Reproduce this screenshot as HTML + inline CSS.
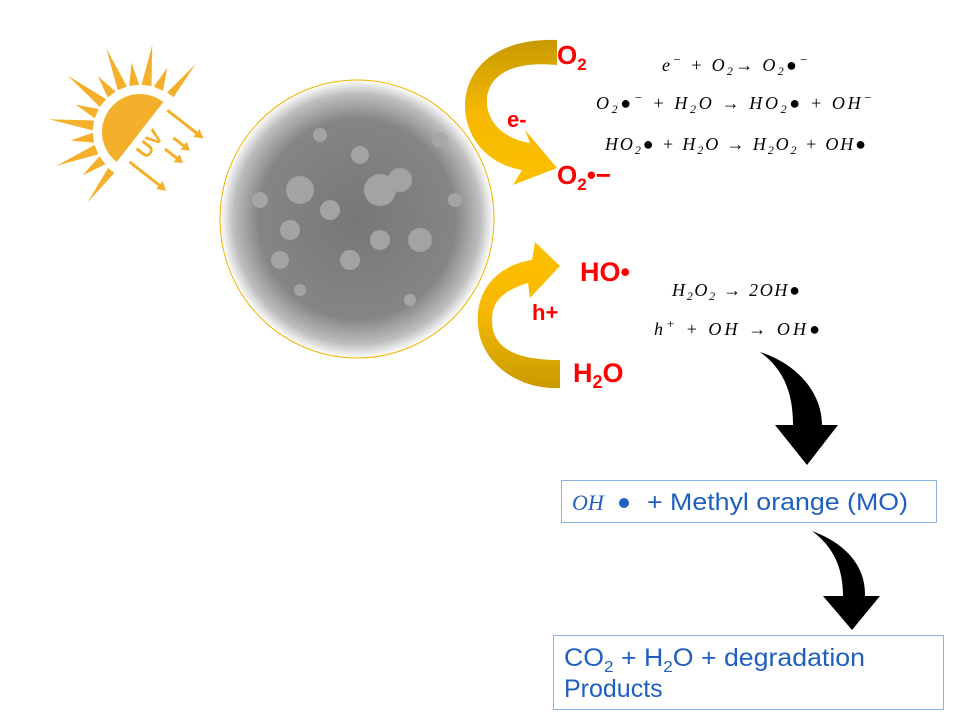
<!DOCTYPE html>
<html><head><meta charset="utf-8"><style>
body{margin:0;background:#fff;}
svg{display:block}
.m{font-family:"Liberation Serif",serif;font-style:italic;font-size:18px;fill:#000}
.r{font-family:"Liberation Sans",sans-serif;font-weight:bold;fill:#f00}
.b{font-family:"Liberation Sans",sans-serif;fill:#1f5fbf}
</style></head><body>
<svg width="960" height="720" viewBox="0 0 960 720" xmlns="http://www.w3.org/2000/svg">
<defs>
<radialGradient id="g" cx="50%" cy="50%" r="50%">
<stop offset="0" stop-color="#777"/><stop offset="0.72" stop-color="#858585"/><stop offset="0.9" stop-color="#bdbdbd"/><stop offset="1" stop-color="#fff"/>
</radialGradient>
<linearGradient id="ga" x1="0" y1="0" x2="0" y2="1"><stop offset="0" stop-color="#c89a00"/><stop offset="0.5" stop-color="#f5b800"/><stop offset="1" stop-color="#ffc000"/></linearGradient>
<linearGradient id="gb" x1="0" y1="1" x2="0" y2="0"><stop offset="0" stop-color="#c89a00"/><stop offset="0.5" stop-color="#f5b800"/><stop offset="1" stop-color="#ffc000"/></linearGradient>
</defs>
<!-- sun -->
<g transform="translate(140,132) rotate(-52)" fill="#f4b02a">
<path d="M-38,0 A38,38 0 0 1 38,0 Z"/>
<g>
<polygon points="-48,-3 -48,5 -88,2" transform="rotate(0)"/>
<polygon points="-47,-5 -47,5 -72,0" transform="rotate(15)"/>
<polygon points="-47,-5 -47,5 -90,0" transform="rotate(30)"/>
<polygon points="-47,-5 -47,5 -70,0" transform="rotate(45)"/>
<polygon points="-47,-5 -47,5 -92,0" transform="rotate(60)"/>
<polygon points="-47,-5 -47,5 -70,0" transform="rotate(75)"/>
<polygon points="-47,-5 -47,5 -92,0" transform="rotate(90)"/>
<polygon points="-47,-5 -47,5 -70,0" transform="rotate(105)"/>
<polygon points="-47,-5 -47,5 -90,0" transform="rotate(120)"/>
<polygon points="-47,-5 -47,5 -70,0" transform="rotate(135)"/>
<polygon points="-47,-5 -47,5 -88,0" transform="rotate(150)"/>
<polygon points="-47,-5 -47,5 -70,0" transform="rotate(165)"/>
<polygon points="-48,-5 -48,3 -88,-2" transform="rotate(180)"/>
</g>
<text x="-18" y="22" font-family="Liberation Sans" font-size="21" font-weight="bold">UV</text>
<g stroke="#f4b02a" stroke-width="3">
<line x1="-30" y1="10" x2="-30" y2="50"/><line x1="2" y1="30" x2="2" y2="48"/><line x1="16" y1="30" x2="16" y2="46"/><line x1="34" y1="8" x2="34" y2="48"/>
</g>
<polygon points="-35,48 -25,48 -30,57"/><polygon points="-3,45 7,45 2,53"/><polygon points="11,43 21,43 16,51"/><polygon points="29,45 39,45 34,54"/>
</g>
<!-- particle -->
<ellipse cx="357" cy="219" rx="137" ry="139" fill="url(#g)"/>
<g fill="#a8a8a8" opacity="0.9">
<circle cx="300" cy="190" r="14"/><circle cx="330" cy="210" r="10"/><circle cx="380" cy="190" r="16"/><circle cx="400" cy="180" r="12"/>
<circle cx="290" cy="230" r="10"/><circle cx="260" cy="200" r="8"/><circle cx="420" cy="240" r="12"/><circle cx="350" cy="260" r="10"/>
<circle cx="280" cy="260" r="9"/><circle cx="320" cy="135" r="7"/><circle cx="360" cy="155" r="9"/><circle cx="440" cy="140" r="8"/>
<circle cx="380" cy="240" r="10"/><circle cx="300" cy="290" r="6"/><circle cx="410" cy="300" r="6"/><circle cx="455" cy="200" r="7"/>
</g>
<ellipse cx="357" cy="219" rx="137" ry="139" fill="none" stroke="#f0b400" stroke-width="1"/>
<!-- gold arrows -->
<path d="M557,40 L557,65 C505,60 485,80 487,105 C490,128 510,140 530,143 L525,130 L557,168 L513,185 L522,170 C490,165 465,140 465,105 C466,65 500,38 557,40Z" fill="url(#ga)"/>
<path d="M560,388 L560,360 C510,360 492,345 492,320 C492,300 505,290 528,283 L530,298 L560,266 L535,242 L532,260 C498,265 475,290 478,325 C480,360 515,390 560,388Z" fill="url(#gb)"/>
<text x="557" y="64" class="r" font-size="26">O<tspan font-size="17" dy="6">2</tspan></text>
<text x="507" y="127" class="r" font-size="22">e-</text>
<text x="557" y="184" class="r" font-size="26">O<tspan font-size="17" dy="6">2</tspan><tspan dy="-6">•−</tspan></text>
<text x="580" y="281" class="r" font-size="27">HO•</text>
<text x="532" y="320" class="r" font-size="22">h+</text>
<text x="573" y="382" class="r" font-size="27">H<tspan font-size="18" dy="6">2</tspan><tspan dy="-6">O</tspan></text>
<!-- equations -->
<text x="662" y="71" class="m" textLength="146" lengthAdjust="spacing">e<tspan dy="-7" font-size="13">−</tspan><tspan dy="7"> + O</tspan><tspan dy="4" font-size="12">2</tspan><tspan dy="-4">→ O</tspan><tspan dy="4" font-size="12">2</tspan><tspan dy="-4">●</tspan><tspan dy="-7" font-size="13">−</tspan></text>
<text x="596" y="109" class="m" textLength="276" lengthAdjust="spacing">O<tspan dy="4" font-size="12">2</tspan><tspan dy="-4">●</tspan><tspan dy="-7" font-size="13">−</tspan><tspan dy="7"> + H</tspan><tspan dy="4" font-size="12">2</tspan><tspan dy="-4">O   →   HO</tspan><tspan dy="4" font-size="12">2</tspan><tspan dy="-4">● + OH</tspan><tspan dy="-7" font-size="13">−</tspan></text>
<text x="605" y="150" class="m" textLength="261" lengthAdjust="spacing">HO<tspan dy="4" font-size="12">2</tspan><tspan dy="-4">● + H</tspan><tspan dy="4" font-size="12">2</tspan><tspan dy="-4">O  →   H</tspan><tspan dy="4" font-size="12">2</tspan><tspan dy="-4">O</tspan><tspan dy="4" font-size="12">2</tspan><tspan dy="-4"> + OH●</tspan></text>
<text x="672" y="296" class="m" textLength="128" lengthAdjust="spacing">H<tspan dy="4" font-size="12">2</tspan><tspan dy="-4">O</tspan><tspan dy="4" font-size="12">2</tspan><tspan dy="-4"> →  2OH●</tspan></text>
<text x="654" y="335" class="m" textLength="166" lengthAdjust="spacing">h<tspan dy="-7" font-size="13">+</tspan><tspan dy="7">  + OH  →   OH●</tspan></text>
<!-- black arrows -->
<path d="M760,352 C800,365 822,395 822,425 L838,425 L807,465 L775,425 L793,425 C793,395 785,370 760,352Z" fill="#000"/>
<path d="M812,531 C850,545 866,570 865,596 L880,596 L852,630 L823,596 L843,596 C843,570 835,548 812,531Z" fill="#000"/>
<!-- boxes -->
<rect x="561.5" y="480.5" width="375" height="42" fill="#fff" stroke="#8ab4e8"/>
<text x="572" y="510" font-family="Liberation Serif" font-style="italic" font-size="22" fill="#1f5fbf">OH</text>
<circle cx="624" cy="503" r="5" fill="#1f5fbf"/>
<text x="647" y="510" class="b" font-size="24" textLength="261" lengthAdjust="spacingAndGlyphs">+ Methyl orange (MO)</text>
<rect x="553.5" y="635.5" width="390" height="74" fill="#fff" stroke="#8ab4e8"/>
<text x="564" y="666" class="b" font-size="25" textLength="301" lengthAdjust="spacingAndGlyphs">CO<tspan font-size="16" dy="6">2</tspan><tspan dy="-6"> + H</tspan><tspan font-size="16" dy="6">2</tspan><tspan dy="-6">O + degradation</tspan></text>
<text x="564" y="697" class="b" font-size="25">Products</text>
</svg>
</body></html>
